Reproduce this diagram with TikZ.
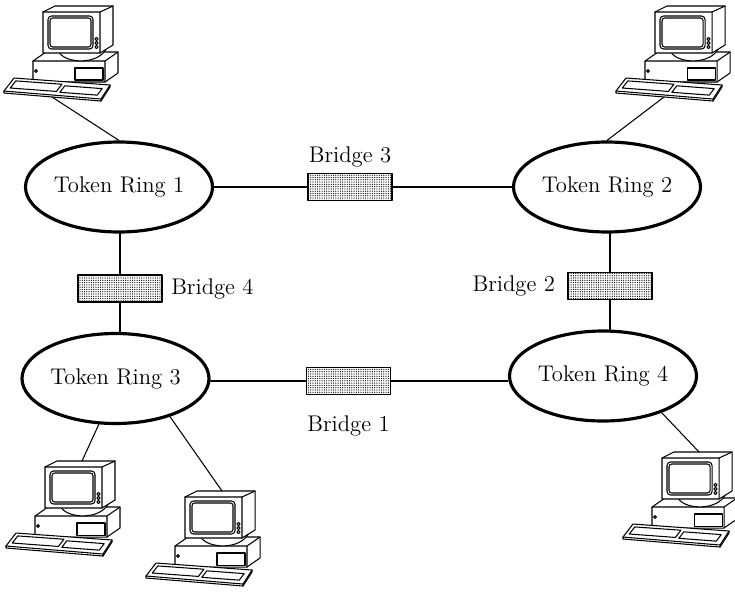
\documentclass[tikz,border=0pt]{standalone}
\usetikzlibrary{positioning,patterns.meta,shapes.geometric}

% workstation: monitor on a system unit, keyboard in front
\tikzset{
  pics/computer/.style={code={
    \begin{scope}[x=0.02cm,y=-0.02cm,line width=.6pt,line join=round]
    % system unit
    \filldraw[fill=white] (33,61) -- (46,52) -- (118,52) -- (118,73) -- (105,82) -- (33,82) -- cycle;
    \draw (33,61) -- (105,61) -- (118,52) (105,61) -- (105,82);
    \draw (75,68) rectangle (103,80);
    \draw (36,71) circle (.8pt);
    % stand
    \filldraw[fill=white] (58,50) .. controls (62,64) and (100,66) .. (107,47) -- cycle;
    % monitor
    \filldraw[fill=white] (43,12) -- (55,6) -- (113,6) -- (113,45) -- (100,53) -- (43,53) -- cycle;
    \draw (43,12) -- (100,12) -- (113,6) (100,12) -- (100,53);
    \draw[rounded corners=2pt] (48,16) rectangle (93,49);
    \draw[rounded corners=1.5pt] (50,18) rectangle (91,47);
    \foreach \b in {39,43,47} {\draw (96.5,\b) circle (.9pt);}
    % keyboard
    \filldraw[fill=white] (14,78) -- (110,85) -- (110,87) -- (101,101) -- (4,93) -- (4,91) -- cycle;
    \draw (4,91) -- (101,99) -- (110,85) (101,99) -- (101,101);
    \draw (15.8,80.9) -- (61.9,84.2) -- (56.4,91.4) -- (10.3,88.0) -- cycle;
    \draw (64.8,85.8) -- (102.2,88.6) -- (97.2,95.1) -- (59.8,92.3) -- cycle;
    \coordinate (-top) at (80,6);
    \coordinate (-kb) at (52,97);
    \end{scope}
  }}
}

\begin{document}
\begin{tikzpicture}[x=1cm,y=1cm, font=\fontsize{12.9}{15}\selectfont, line cap=round, line join=round,
  ring/.style={ellipse,draw,line width=1.8pt,inner sep=0pt,minimum width=3.74cm,minimum height=1.80cm},
  bridge/.style={draw,line width=.7pt,inner sep=0pt,minimum width=1.68cm,minimum height=.54cm,
    pattern={Dots[radius=.36pt,distance=1.3pt]},pattern color=black},
  link/.style={draw,line width=.6pt}]
\useasboundingbox (0,0) rectangle (14.70,11.82);

% rings
\foreach \n/\x/\y in {1/2.38/8.08, 2/12.14/8.08, 3/2.31/4.25, 4/12.06/4.30} {\node[ring] (r\n) at (\x,\y) {Token Ring \n};}

% bridges and their labels
\node[bridge] (b3) at (7.00,8.08) {};
\node[bridge] (b4) at (2.40,6.05) {};
\node[bridge] (b2) at (12.20,6.10) {};
\node[bridge] (b1) at (6.97,4.20) {};
\node (l3) [above=0pt of b3] {Bridge 3};
\node (l4) [right=1.4pt of b4] {Bridge 4};
\node (l2) [left=3.6pt of b2] {Bridge 2};
\node (l1) [below=8pt of b1] {Bridge 1};

\draw[link] (r1) -- (b3) -- (r2);
\draw[link] (b1) -- (b1 -| r3.east);
\draw[link] (b1) -- (b1 -| r4.west);
\draw[link] (b4) -- (b4 |- r1.south);
\draw[link] (b4) -- (b4 |- r3.north);
\draw[link] (b2) -- (b2 |- r2.south);
\draw[link] (b2) -- (b2 |- r4.north);

% workstations
\pic (pc1) at (0,11.82) {computer};
\pic (pc2) at (12.24,11.82) {computer};
\pic (pc3) at (0.04,2.72) {computer};
\pic (pc4) at (2.84,2.12) {computer};
\pic (pc5) at (12.38,2.90) {computer};
\draw[link] (pc1-kb) -- (r1.north);
\draw[link] (pc2-kb) -- (r2.north);
\draw[link] (r3.250) -- (pc3-top);
\draw[link] (r3.325) -- (pc4-top);
\draw[link] (r4.328) -- (pc5-top);
\end{tikzpicture}
\end{document}
